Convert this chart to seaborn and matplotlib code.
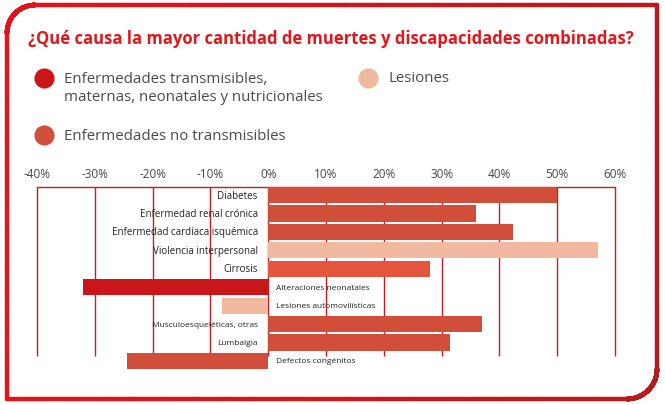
import numpy as np
import matplotlib
matplotlib.use("Agg")
import matplotlib.pyplot as plt
from matplotlib.collections import LineCollection
from matplotlib.lines import Line2D
from matplotlib.colors import to_rgb
import seaborn as sns

# =========================
# Datos
# =========================
causas = [
    "Diabetes",
    "Enfermedad renal crónica",
    "Enfermedad cardíaca isquémica",
    "Violencia interpersonal",
    "Cirrosis",
    "Alteraciones neonatales",
    "Lesiones automovilísticas",
    "Musculoesqueléticas, otras",
    "Lumbalgia",
    "Defectos congénitos",
]
cambio = [50, 36, 42.4, 57, 28, -32, -8, 37, 31.5, -24.5]
grupo = ["no_trans", "no_trans", "no_trans", "lesiones", "cirrosis",
         "trans", "lesiones", "no_trans", "no_trans", "no_trans"]

ticks = [-40, -30, -20, -10, 0, 10, 20, 30, 40, 50, 60]
tick_labels = [f"{t}%" for t in ticks]

titulo = "¿Qué causa la mayor cantidad de muertes y discapacidades combinadas?"
leyenda_nombres = [
    "Enfermedades transmisibles,\nmaternas, neonatales y nutricionales",
    "Lesiones",
    "Enfermedades no transmisibles",
]
leyenda_grupos = ["trans", "lesiones", "no_trans"]

# =========================
# Estilo
# =========================
colores_grupo = {
    "trans": "#C8161A",
    "no_trans": "#D04E3A",
    "lesiones": "#F2B9A1",
    "cirrosis": "#E3553C",
}
rojo = "#CC1A1E"
gris = "#444444"

sns.set_theme(style="white")
plt.rcParams["font.family"] = ["Open Sans", "DejaVu Sans"]

W, H = 665, 406
fig = plt.figure(figsize=(W / 100, H / 100), dpi=100)
fig.patch.set_facecolor("white")

# eje del grafico (pixeles: x 37-615, y 188-370)
ax = fig.add_axes([37 / W, 1 - 370 / H, 578 / W, 182 / H])
ax.set_facecolor("none")

sns.barplot(x=cambio, y=causas, hue=causas,
            palette=[colores_grupo[g] for g in grupo],
            legend=False, saturation=1, width=0.88, orient="h", ax=ax)
for p in ax.patches:
    p.set_zorder(3)
    p.set_edgecolor("none")

ax.set_xlim(-40, 60)
ax.set_ylim(9.44, -0.44)
ax.vlines(ticks, -0.44, 8.74, color=rojo, lw=1, zorder=1, clip_on=False)

for s in ["left", "right", "bottom"]:
    ax.spines[s].set_visible(False)
ax.spines["top"].set_color(rojo)
ax.spines["top"].set_linewidth(1)

ax.set_xticks(ticks)
ax.set_xticklabels(tick_labels)
ax.tick_params(axis="x", top=True, labeltop=True, bottom=False,
               labelbottom=False, length=0, pad=5, labelsize=8.5,
               labelcolor=gris)
ax.set_yticks([])
ax.set_xlabel("")
ax.set_ylabel("")
ax.grid(False)

# etiquetas junto al 0%
for i, (c, v) in enumerate(zip(causas, cambio)):
    tam = 7 if i < 5 else 6
    if v >= 0:
        ax.annotate(c, xy=(0, i), xytext=(-7.5, 0), textcoords="offset points",
                    ha="right", va="center", fontsize=tam, color="#222222", zorder=4)
    else:
        ax.annotate(c, xy=(0, i), xytext=(5.5, 0), textcoords="offset points",
                    ha="left", va="center", fontsize=tam, color="#222222", zorder=4)

# titulo
fig.text(28 / W, 1 - 39 / H, titulo, ha="left", va="center",
         fontsize=12, fontweight="bold", color="#E2161B")

# leyenda
pos_leyenda = [(44, 88.5, 79), (368, 79, 79), (44, 136, 136)]
for nombre, g, (cx, ty, cy) in zip(leyenda_nombres, leyenda_grupos, pos_leyenda):
    fig.add_artist(Line2D([cx / W], [1 - cy / H], marker="o", ms=13.5,
                          color=colores_grupo[g], transform=fig.transFigure))
    fig.text((cx + 20) / W, 1 - ty / H, nombre, ha="left", va="center",
             fontsize=10.8, color="#4a4a4a", linespacing=1.2)

# borde redondeado con degradado
def borde(x0, y0, x1, y1, r1, r2, n=60):
    pts = [(x0, y0), (x0, y1 - r1)]
    t = np.linspace(np.pi, np.pi / 2, n)
    pts += list(zip(x0 + r1 + r1 * np.cos(t), y1 - r1 + r1 * np.sin(t)))
    pts += [(x1, y1), (x1, y0 + r2)]
    t = np.linspace(0, -np.pi / 2, n)
    pts += list(zip(x1 - r2 + r2 * np.cos(t), y0 + r2 + r2 * np.sin(t)))
    pts += [(x0, y0)]
    return np.array(pts)

pts = borde(7, H - 400, 657, H - 6, 28, 30)
# subdividir tramos largos para el degradado
fino = []
for a, b in zip(pts[:-1], pts[1:]):
    for k in np.linspace(0, 1, 20, endpoint=False):
        fino.append(a + (b - a) * k)
fino.append(pts[-1])
fino = np.array(fino)
fino[:, 0] /= W
fino[:, 1] /= H
segs = np.stack([fino[:-1], fino[1:]], axis=1)
c_izq, c_der = np.array(to_rgb("#E3141B")), np.array(to_rgb("#B71A1E"))
f = segs[:, :, 0].mean(axis=1)
f = (f - f.min()) / (f.max() - f.min())
cols = c_izq[None, :] * (1 - f[:, None]) + c_der[None, :] * f[:, None]
lc = LineCollection(segs, colors=cols, linewidths=3.2, capstyle="round",
                    transform=fig.transFigure)
fig.add_artist(lc)

fig.savefig("out.png", dpi=100)
